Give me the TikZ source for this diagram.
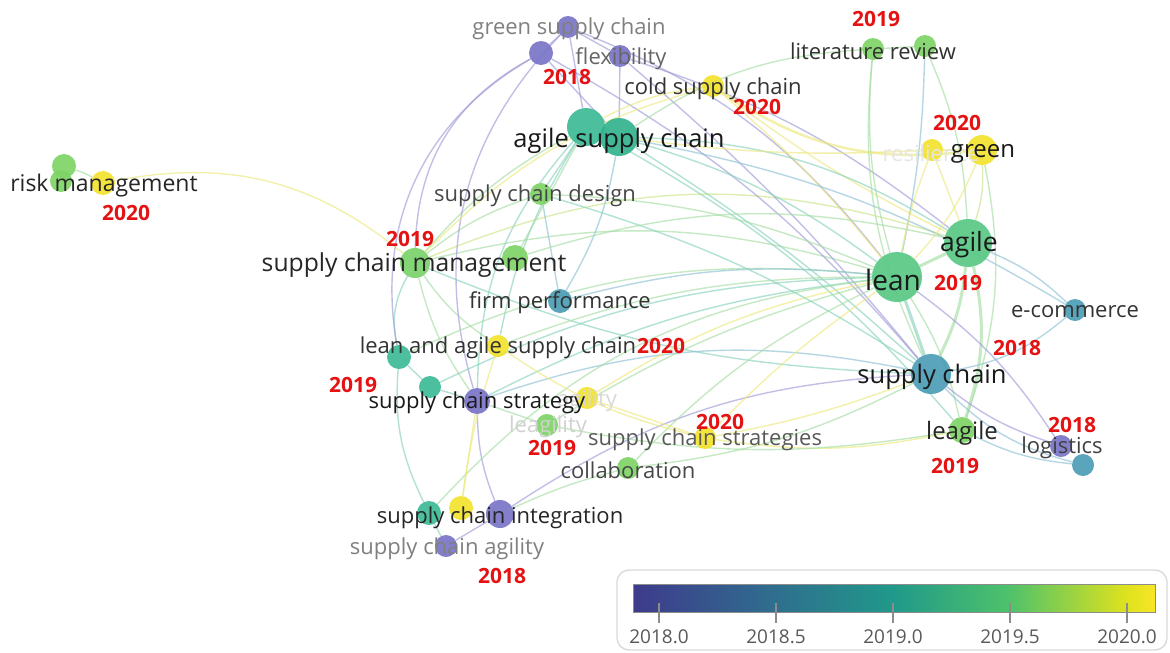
\documentclass[tikz,border=0pt]{standalone}
\usepackage{fontspec}
\setmainfont{Open Sans}
\usetikzlibrary{backgrounds}
\definecolor{cP}{HTML}{7A75C6}
\definecolor{cB}{HTML}{4C9DB7}
\definecolor{cT}{HTML}{3DBB96}
\definecolor{cT2}{HTML}{34B28E}
\definecolor{cG}{HTML}{58C884}
\definecolor{cG2}{HTML}{7FD467}
\definecolor{cY}{HTML}{F2E22E}
\definecolor{edP}{HTML}{A19DD9}
\definecolor{edB}{HTML}{8EC2D4}
\definecolor{edT}{HTML}{88D3BD}
\definecolor{edG}{HTML}{A6DEA4}
\definecolor{edY}{HTML}{EDE97E}
\definecolor{edYG}{HTML}{CCE68A}
\definecolor{yearred}{HTML}{E41212}
\definecolor{vA}{HTML}{3E3A8C}
\definecolor{vB}{HTML}{2F6F8E}
\definecolor{vC}{HTML}{20998A}
\definecolor{vD}{HTML}{4FC26A}
\definecolor{vE}{HTML}{DFE21E}
\definecolor{vF}{HTML}{F7E626}
\pgfdeclarehorizontalshading{viridisbar}{100bp}{color(0bp)=(vA); color(25bp)=(vA); color(38.7bp)=(vB); color(49.9bp)=(vC); color(61.1bp)=(vD); color(72.3bp)=(vE); color(75bp)=(vF); color(100bp)=(vF)}
\tikzset{
  dot/.style={circle, inner sep=0pt, minimum size=#1, draw=none, fill opacity=0.92},
  lblL/.style={font=\fontsize{25.5}{30}\selectfont, text=#1, inner sep=0pt, yshift=-3pt},
  lblL/.default={black!90},
  lblM/.style={font=\fontsize{22}{26}\selectfont, text=#1, inner sep=0pt, yshift=-3pt},
  lblM/.default={black!80},
  yr/.style={font=\fontsize{21}{25}\selectfont\bfseries, text=yearred, inner sep=0pt, yshift=-1pt},
  lnk/.style={line width=1.4pt, draw opacity=0.65},
  eP/.style={lnk, draw=edP},
  eB/.style={lnk, draw=edB},
  eT/.style={lnk, draw=edT},
  eG/.style={lnk, draw=edG},
  eY/.style={lnk, draw=edY},
  eYG/.style={lnk, draw=edYG},
  thick2/.style={line width=3pt},
  tickln/.style={draw=black!45, line width=1.3pt},
  ticklbl/.style={font=\fontsize{19}{22}\selectfont, text=black!65, inner sep=0pt},
}
\begin{document}
\begin{tikzpicture}[x=1pt, y=-1pt]
\useasboundingbox (0,0) rectangle (1170,653);

% ---------- circles ----------
\node[dot=22, fill=cP] (gsc1) at (568,27) {};
\node[dot=24, fill=cP] (gsc2) at (541,53) {};
\node[dot=22, fill=cP] (flex) at (620,56) {};
\node[dot=22, fill=cY] (cold) at (713,86) {};
\node[dot=38, fill=cT] (asc1) at (586,127) {};
\node[dot=38, fill=cT2] (asc2) at (619,137) {};
\node[dot=22, fill=cG2] (lit1) at (873,49) {};
\node[dot=22, fill=cG2] (lit2) at (925,46) {};
\node[dot=22, fill=cY] (res) at (932,150) {};
\node[dot=30, fill=cY] (green) at (982,150) {};
\node[dot=24, fill=cG2] (rm1) at (64,166) {};
\node[dot=22, fill=cG2] (rm2) at (61,181) {};
\node[dot=24, fill=cY] (rm3) at (103,183) {};
\node[dot=22, fill=cG2] (scd) at (541,194) {};
\node[dot=30, fill=cG2!85!cG] (scm) at (415,263) {};
\node[dot=26, fill=cG2] (scm2) at (515,258) {};
\node[dot=24, fill=cB] (fp) at (560,301) {};
\node[dot=22, fill=cY] (lasc) at (498,346) {};
\node[dot=24, fill=cT] (t1) at (399,357) {};
\node[dot=22, fill=cT] (t2) at (430,387) {};
\node[dot=26, fill=cP] (scs) at (477,401) {};
\node[dot=22, fill=cY] (agil) at (587,398) {};
\node[dot=22, fill=cG2] (leag) at (547,425) {};
\node[dot=22, fill=cY] (scss) at (705,438) {};
\node[dot=22, fill=cG2] (collab) at (628,468) {};
\node[dot=24, fill=cT] (sci1) at (429,513) {};
\node[dot=24, fill=cY] (sci2) at (461,508) {};
\node[dot=28, fill=cP] (sci3) at (500,514) {};
\node[dot=22, fill=cP] (sca) at (446,546) {};
\node[dot=50, fill=cG] (lean) at (897,277) {};
\node[dot=48, fill=cG] (agile) at (968,243) {};
\node[dot=22, fill=cB] (ecom) at (1075,310) {};
\node[dot=40, fill=cB] (sc) at (931,374) {};
\node[dot=26, fill=cG2] (leagile) at (962,430) {};
\node[dot=22, fill=cP] (log) at (1061,446) {};
\node[dot=22, fill=cB] (log2) at (1083,465) {};

% ---------- connectors ----------
\begin{pgfonlayer}{background}
\fill[white] (0,0) rectangle (1170,653);
\draw[eY] (rm3) to[bend left=25] (scm);
\draw[eG] (rm1) to[bend left=5] (rm3);
\draw[eG] (scm) to[bend left=10] (asc1);
\draw[eG] (scm) to[bend left=15] (lean);
\draw[eYG] (scm) to[bend left=20] (agile);
\draw[eG] (scm) to[bend left=10] (scd);
\draw[eG] (scm) to[bend right=10] (lasc);
\draw[eT] (scm) to[bend right=20] (t1);
\draw[eG] (scm) to[bend right=10] (scs);
\draw[eT] (scm) to[bend right=10] (sc);
\draw[eP] (gsc1) to (asc1);
\draw[eP] (gsc2) to (asc2);
\draw[eP] (gsc1) to[bend left=15] (lean);
\draw[eP] (gsc2) to[bend left=10] (sc);
\draw[eP] (gsc1) to (gsc2);
\draw[eP] (gsc1) to (flex);
\draw[eP] (flex) to (asc2);
\draw[eP] (flex) to[bend left=10] (agile);
\draw[eP] (flex) to[bend left=5] (sc);
\draw[eP] (gsc2) to[bend right=30] (scm);
\draw[eP] (gsc1) to[bend right=30] (scs);
\draw[eP] (gsc2) to[bend right=35] (t1);
\draw[eY, line width=2.5pt] (cold) to[bend right=20] (green);
\draw[eY] (cold) to[bend left=5] (lean);
\draw[eY] (cold) to[bend right=5] (agile);
\draw[eY] (cold) to[bend right=10] (asc1);
\draw[eY] (cold) to[bend right=15] (scm);
\draw[eT] (asc2) to[bend left=10] (lean);
\draw[eT] (asc2) to[bend left=15] (agile);
\draw[eT] (asc2) to[bend left=5] (sc);
\draw[eT] (asc1) to (scd);
\draw[eT] (asc1) to[bend right=10] (lasc);
\draw[eB] (asc2) to[bend left=10] (fp);
\draw[eB] (asc2) to[bend left=10] (ecom);
\draw[eT] (asc1) to[bend right=20] (scs);
\draw[eT] (asc1) to[bend left=10] (leagile);
\draw[eG] (asc2) to[bend left=15] (lit1);
\draw[eG] (lit1) to[bend right=10] (lean);
\draw[eG] (lit1) to[bend right=15] (sc);
\draw[eG] (lit2) to[bend left=10] (agile);
\draw[eB] (lit2) to[bend left=5] (lean);
\draw[eG] (lit1) to (lit2);
\draw[eY] (res) to[bend right=5] (lean);
\draw[eY] (res) to (agile);
\draw[eY] (res) to (green);
\draw[eY] (green) to[bend left=10] (lean);
\draw[eYG] (green) to[bend left=10] (agile);
\draw[eG] (green) to[bend left=15] (leagile);
\draw[eY] (res) to[bend left=5] (asc2);
\draw[eG, thick2] (lean) to (agile);
\draw[eT, thick2] (lean) to (sc);
\draw[eG, thick2] (agile) to[bend left=10] (sc);
\draw[eG, thick2] (agile) to[bend left=15] (leagile);
\draw[eG] (lean) to[bend left=10] (leagile);
\draw[eB] (agile) to[bend left=10] (ecom);
\draw[eB] (sc) to[bend right=15] (ecom);
\draw[eP] (sc) to[bend right=10] (log);
\draw[eP] (lean) to[bend left=10] (log);
\draw[eB] (sc) to[bend right=15] (log2);
\draw[eB] (leagile) to[bend right=10] (log2);
\draw[eB] (scs) to[bend left=15] (sc);
\draw[eT] (scs) to[bend left=10] (lean);
\draw[eP] (scs) to[bend right=10] (sci3);
\draw[eT] (scs) to (t2);
\draw[eT] (t1) to (t2);
\draw[eT] (t1) to[bend right=15] (sci1);
\draw[eG] (t1) to[bend left=15] (lean);
\draw[eT] (t2) to[bend left=12] (lean);
\draw[eT] (sci1) to (sca);
\draw[eG] (sci1) to[bend left=20] (lean);
\draw[eP] (sci3) to (sca);
\draw[eY] (sci2) to (scs);
\draw[eP] (sci3) to[bend left=15] (sc);
\draw[eG] (sci3) to[bend left=5] (collab);
\draw[eG] (collab) to[bend left=10] (lean);
\draw[eG] (collab) to[bend right=10] (sc);
\draw[eY] (scss) to[bend left=5] (lean);
\draw[eY] (scss) to[bend right=5] (sc);
\draw[eY] (scss) to[bend right=10] (leagile);
\draw[eY] (agil) to[bend left=10] (lean);
\draw[eY] (agil) to (scss);
\draw[eG] (leag) to[bend right=10] (leagile);
\draw[eG] (leag) to[bend left=8] (lean);
\draw[eG] (leag) to (scs);
\draw[eY] (lasc) to[bend right=10] (scss);
\draw[eG] (lasc) to[bend left=10] (lean);
\draw[eY] (lasc) to[bend right=5] (sci2);
\draw[eB] (fp) to[bend left=10] (lean);
\draw[eB] (fp) to (scd);
\draw[eG] (scd) to[bend left=10] (lean);
\draw[eT] (scd) to[bend left=8] (sc);
\draw[eG] (scm2) to[bend left=15] (agile);
\draw[eG] (scm2) to (asc1);
\end{pgfonlayer}

% ---------- labels ----------
\node[lblM=black!50] (l-gsc) at (569,26) {green supply chain};
\node[lblM=black!60] (l-flex) at (621,56) {flexibility};
\node[lblM] (l-cold) at (713,86) {cold supply chain};
\node[lblL] (l-asc) at (619,138) {agile supply chain};
\node[lblM] (l-lit) at (873,48) {literature review};
\node[lblM=black!10] (l-res) at (931,150) {resilience};
\node[lblM=black!90, font=\fontsize{24}{28}\selectfont] (l-green) at (983,151) {green};
\node[lblM=black!85, font=\fontsize{23}{27}\selectfont] (l-rm) at (104,183) {risk management};
\node[lblM=black!72] (l-scd) at (535,193) {supply chain design};
\node[lblL=black!85, font=\fontsize{24.7}{29}\selectfont] (l-scm) at (414,262) {supply chain management};
\node[lblM] (l-fp) at (560,300) {firm performance};
\node[lblM] (l-lasc) at (498,345) {lean and agile supply chain};
\node[lblM=black!15] (l-agil) at (587,398) {agility};
\node[lblM=black!90] (l-scs) at (477,400) {supply chain strategy};
\node[lblM=black!18] (l-leag) at (548,424) {leagility};
\node[lblM=black!65] (l-scss) at (705,437) {supply chain strategies};
\node[lblM=black!72] (l-collab) at (628,467) {collaboration};
\node[lblM=black!85] (l-sci) at (500,515) {supply chain integration};
\node[lblM=black!50] (l-sca) at (447,546) {supply chain agility};
\node[lblL, font=\fontsize{28}{32}\selectfont] (l-lean) at (893,277) {lean};
\node[lblL, font=\fontsize{26.5}{31}\selectfont] (l-agile) at (969,242) {agile};
\node[lblM] (l-ecom) at (1075,309) {e-commerce};
\node[lblL] (l-sc) at (932,374) {supply chain};
\node[lblM=black!85, font=\fontsize{24}{28}\selectfont] (l-leagile) at (962,430) {leagile};
\node[lblM=black!75] (l-log) at (1062,445) {logistics};

% ---------- year annotations ----------
\node[yr] (y1) at (567,76) {2018};
\node[yr] (y2) at (757,106) {2020};
\node[yr] (y3) at (876,18) {2019};
\node[yr] (y4) at (957,122) {2020};
\node[yr] (y5) at (126,212) {2020};
\node[yr] (y6) at (410,238) {2019};
\node[yr] (y7) at (661,345) {2020};
\node[yr] (y8) at (353,384) {2019};
\node[yr] (y9) at (552,447) {2019};
\node[yr] (y10) at (720,421) {2020};
\node[yr] (y11) at (502,575) {2018};
\node[yr] (y12) at (958,282) {2019};
\node[yr] (y13) at (1017,347) {2018};
\node[yr] (y14) at (955,465) {2019};
\node[yr] (y15) at (1072,424) {2018};

% ---------- legend ----------
\node[draw=black!15, line width=1.3pt, fill=white, rounded corners=12pt, minimum width=550, minimum height=80, inner sep=0pt] (legend) at (892,610) {};
\shade[shading=viridisbar, draw=black!45, line width=0.8pt] (633,584) rectangle (1155,612);
\foreach \x/\t in {659/2018.0, 776/2018.5, 893/2019.0, 1010/2019.5, 1127/2020.0} {
  \draw[tickln] (\x,603) -- (\x,623);
  \node[ticklbl] at (\x,637) {\t};
}
\end{tikzpicture}
\end{document}
